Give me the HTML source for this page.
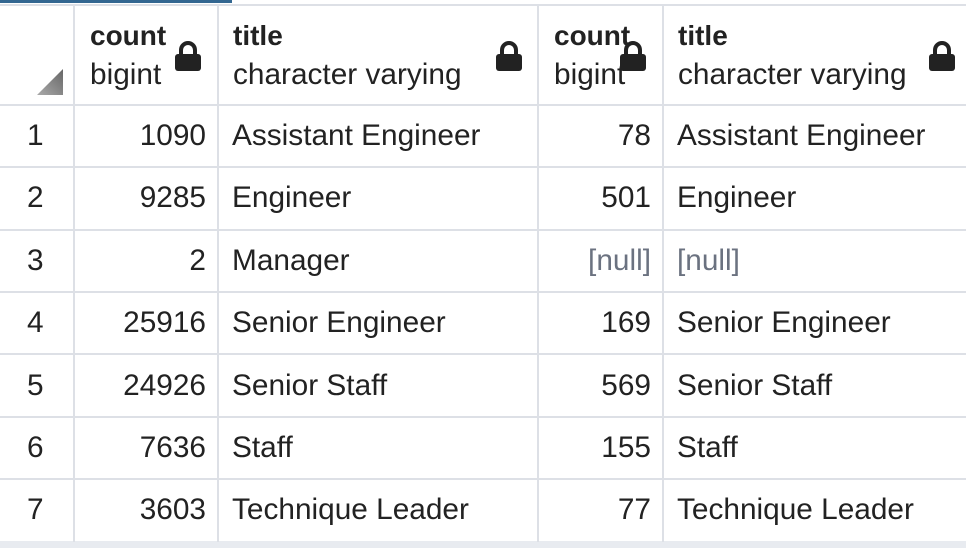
<!DOCTYPE html>
<html><head><style>
body{margin:0;width:966px;height:548px;background:#fff;overflow:hidden;position:relative;font-family:"Liberation Sans",sans-serif;color:#222;}
.a{position:absolute;white-space:nowrap;}
.h{background:#dde0e6;position:absolute;}
.t{font-size:29.8px;line-height:32px;}
.r{text-align:right;}
.b{font-weight:bold;font-size:28px;line-height:30px;}
.n{color:#6b7280;}
.lock{position:absolute;width:28px;height:32px;}
</style></head><body>
<div class="h" style="left:0;top:0;width:232px;height:3px;background:#336791"></div>
<div class="h" style="left:0;top:4px;width:966px;height:2px"></div>
<div class="h" style="left:0;top:104px;width:966px;height:2px"></div>
<div class="h" style="left:0;top:166px;width:966px;height:2px"></div>
<div class="h" style="left:0;top:229px;width:966px;height:2px"></div>
<div class="h" style="left:0;top:291px;width:966px;height:2px"></div>
<div class="h" style="left:0;top:353px;width:966px;height:2px"></div>
<div class="h" style="left:0;top:416px;width:966px;height:2px"></div>
<div class="h" style="left:0;top:478px;width:966px;height:2px"></div>
<div class="h" style="left:0;top:541px;width:966px;height:7px;background:#e8ebf0"></div>
<div class="h" style="left:73px;top:4px;width:2px;height:538px"></div>
<div class="h" style="left:217px;top:4px;width:2px;height:538px"></div>
<div class="h" style="left:537px;top:4px;width:2px;height:538px"></div>
<div class="h" style="left:662px;top:4px;width:2px;height:538px"></div>
<svg class="a" style="left:37px;top:69px" width="26" height="26"><defs><linearGradient id="g" x1="0" y1="1" x2="1" y2="0"><stop offset="0" stop-color="#aaa"/><stop offset="1" stop-color="#666"/></linearGradient></defs><polygon points="26,0 26,26 0,26" fill="url(#g)"/></svg>
<svg style="position:absolute;width:0;height:0"><symbol id="L" viewBox="0 0 28 32"><path d="M7 15 V10 a7 7 0 0 1 14 0 V15" fill="none" stroke="#222" stroke-width="4"/><rect x="1" y="14" width="26" height="17" rx="3" fill="#222"/></symbol></svg>
<svg class="lock" style="left:174px;top:40px"><use href="#L" width="28" height="32"/></svg>
<svg class="lock" style="left:495px;top:40px"><use href="#L" width="28" height="32"/></svg>
<svg class="lock" style="left:619px;top:40px"><use href="#L" width="28" height="32"/></svg>
<svg class="lock" style="left:928px;top:40px"><use href="#L" width="28" height="32"/></svg>
<div class="a b" style="left:90px;top:21px">count</div>
<div class="a t" style="left:90px;top:59px">bigint</div>
<div class="a b" style="left:233px;top:21px">title</div>
<div class="a t" style="left:233px;top:59px">character varying</div>
<div class="a b" style="left:554px;top:21px">count<span style="font-weight:normal;font-size:18px">..</span></div>
<div class="a t" style="left:554px;top:59px">bigint</div>
<div class="a b" style="left:678px;top:21px">title</div>
<div class="a t" style="left:678px;top:59px">character varying</div>
<div id="rows"></div>
<script>
var d=[["1","1090","Assistant Engineer","78","Assistant Engineer"],["2","9285","Engineer","501","Engineer"],["3","2","Manager","[null]","[null]"],["4","25916","Senior Engineer","169","Senior Engineer"],["5","24926","Senior Staff","569","Senior Staff"],["6","7636","Staff","155","Staff"],["7","3603","Technique Leader","77","Technique Leader"]];
var h="";d.forEach(function(r,i){var y=120+i*62.4;var n=r[3]=="[null]"?" n":"";
h+='<div class="a t" style="left:27px;top:'+y+'px">'+r[0]+'</div>';
h+='<div class="a t r" style="right:760px;top:'+y+'px">'+r[1]+'</div>';
h+='<div class="a t" style="left:232px;top:'+y+'px">'+r[2]+'</div>';
h+='<div class="a t r'+n+'" style="right:315px;top:'+y+'px">'+r[3]+'</div>';
h+='<div class="a t'+n+'" style="left:677px;top:'+y+'px">'+r[4]+'</div>';});
document.getElementById("rows").innerHTML=h;
</script>
</body></html>
